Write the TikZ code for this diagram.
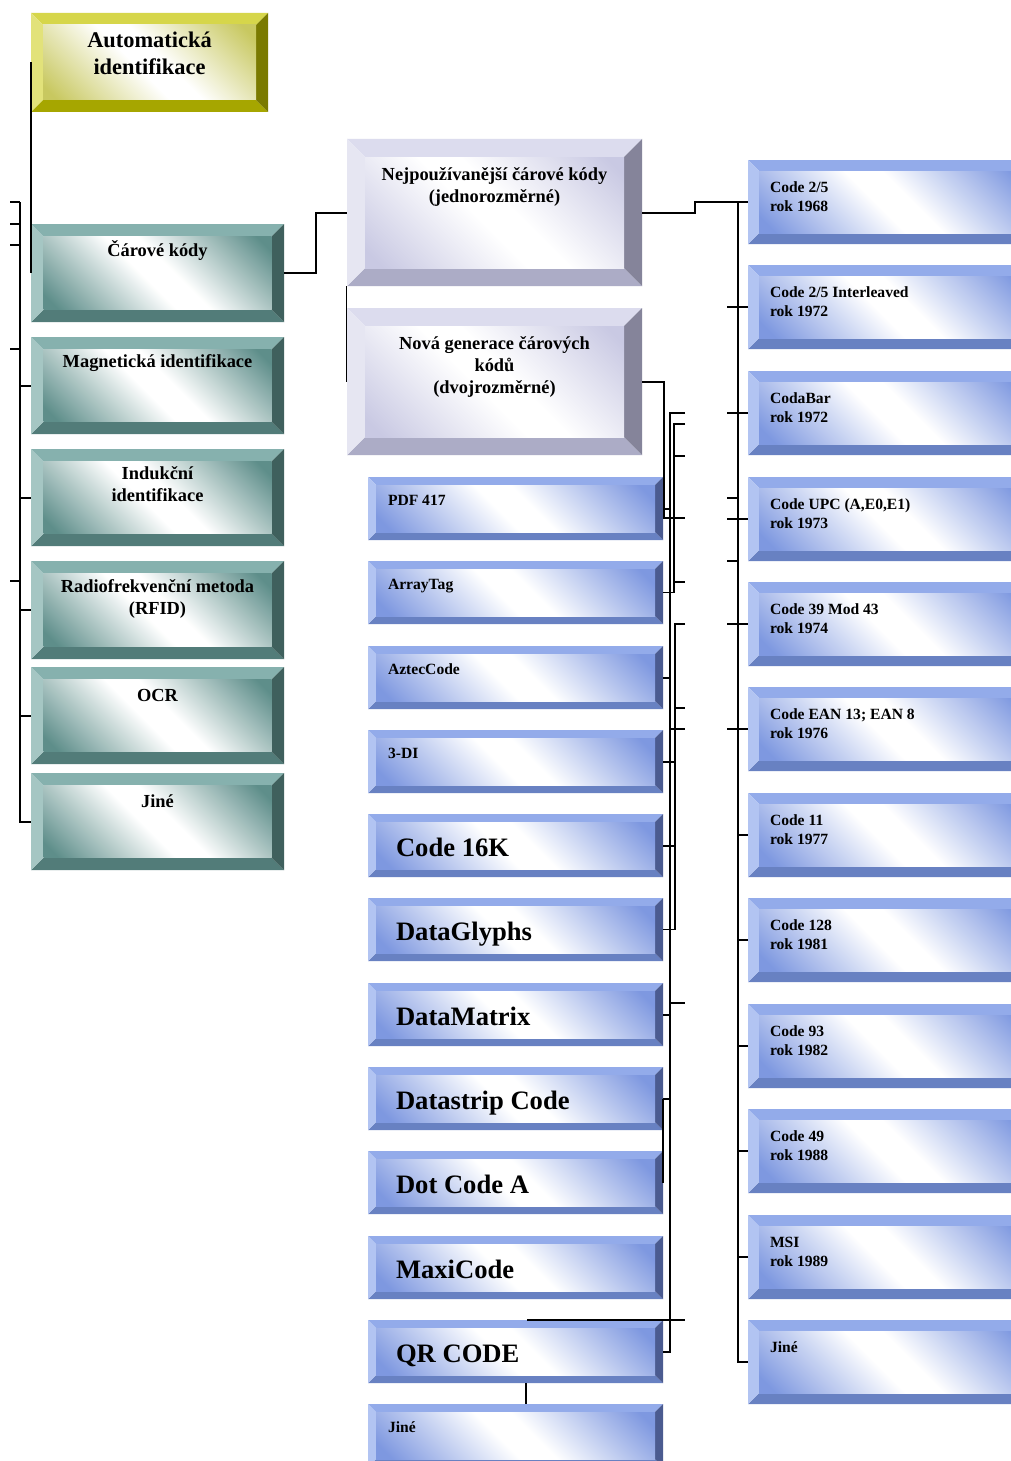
\documentclass[tikz,border=0pt]{standalone}
\usepackage{fontspec}
\setmainfont{Liberation Serif}
\usetikzlibrary{calc,fit}

% bevel palettes: T top, L left, R right, B bottom, C face tint
\definecolor{yeT}{HTML}{D6D64A}
\definecolor{yeL}{HTML}{E2E27A}
\definecolor{yeR}{HTML}{7A7A00}
\definecolor{yeB}{HTML}{A6A600}
\definecolor{yeC}{HTML}{C8C860}
\definecolor{tlT}{HTML}{86B1AE}
\definecolor{tlL}{HTML}{A5C6C3}
\definecolor{tlR}{HTML}{3F605D}
\definecolor{tlB}{HTML}{527C79}
\definecolor{tlC}{HTML}{5E8E8A}
\definecolor{lvT}{HTML}{DCDCEE}
\definecolor{lvL}{HTML}{E6E6F2}
\definecolor{lvR}{HTML}{85849A}
\definecolor{lvB}{HTML}{ACACC6}
\definecolor{lvC}{HTML}{C9C9E3}
\definecolor{blT}{HTML}{93ABEA}
\definecolor{blL}{HTML}{B2C4F2}
\definecolor{blR}{HTML}{4B5B90}
\definecolor{blB}{HTML}{6881C2}
\definecolor{blC}{HTML}{7E98E0}

\pgfdeclareverticalshading{bandye}{100bp}{color(0bp)=(yeC); color(18bp)=(yeC); color(46bp)=(white); color(54bp)=(white); color(82bp)=(yeC); color(100bp)=(yeC)}
\pgfdeclareverticalshading{bandtl}{100bp}{color(0bp)=(tlC); color(18bp)=(tlC); color(46bp)=(white); color(54bp)=(white); color(82bp)=(tlC); color(100bp)=(tlC)}
\pgfdeclareverticalshading{bandlv}{100bp}{color(0bp)=(lvC); color(18bp)=(lvC); color(46bp)=(white); color(54bp)=(white); color(82bp)=(lvC); color(100bp)=(lvC)}
\pgfdeclareverticalshading{bandbl}{100bp}{color(0bp)=(blC); color(18bp)=(blC); color(46bp)=(white); color(54bp)=(white); color(82bp)=(blC); color(100bp)=(blC)}

% #1 name, #2 palette, #3 x1, #4 y1, #5 x2, #6 y2, #7 bevel width
\newcommand\bevelbox[7]{%
  \fill[#2T] (#3,#4) -- (#5,#4) -- ({#5-#7},{#4+#7}) -- ({#3+#7},{#4+#7}) -- cycle;
  \fill[#2B] (#3,#6) -- (#5,#6) -- ({#5-#7},{#6-#7}) -- ({#3+#7},{#6-#7}) -- cycle;
  \fill[#2L] (#3,#4) -- ({#3+#7},{#4+#7}) -- ({#3+#7},{#6-#7}) -- (#3,#6) -- cycle;
  \fill[#2R] (#5,#4) -- ({#5-#7},{#4+#7}) -- ({#5-#7},{#6-#7}) -- (#5,#6) -- cycle;
  \shade[shading=band#2,shading angle=-45] ({#3+#7},{#4+#7}) rectangle ({#5-#7},{#6-#7});
  \node[fit={(#3,#4)(#5,#6)},inner sep=0pt] (#1) {};
}
\newcommand\ccol[1]{\begin{tabular}[t]{@{}c@{}}#1\end{tabular}}
\newcommand\lcol[1]{\begin{tabular}[t]{@{}l@{}}#1\end{tabular}}

\tikzset{
  roottxt/.style={anchor=base,inner sep=0pt,font=\bfseries\fontsize{11.2}{13.5}\selectfont},
  headtxt/.style={anchor=base,inner sep=0pt,font=\bfseries\fontsize{9.2}{11}\selectfont},
  smalltxt/.style={anchor=base west,inner sep=0pt,font=\bfseries\fontsize{7.8}{9.3}\selectfont},
  bigtxt/.style={anchor=base west,inner sep=0pt,font=\bfseries\fontsize{13.3}{16}\selectfont},
  conn/.style={line width=1pt,black},
  thinconn/.style={line width=0.6pt,black},
}

\begin{document}
\begin{tikzpicture}[x=0.5pt,y=-0.5pt]
\useasboundingbox (0,0) rectangle (1011,1461);
\fill[white] (0,0) rectangle (1011,1461);
\clip (0,0) rectangle (1011,1461);

% root
\bevelbox{root}{ye}{31}{13}{268}{112}{12}
\node[roottxt] (troot) at ($(root.north)+(0,35)$) {\ccol{Automatická\\identifikace}};

% identification methods
\bevelbox{bar}{tl}{31}{224}{284}{322}{12.5}
\bevelbox{mag}{tl}{31}{337}{284}{434}{12.5}
\bevelbox{ind}{tl}{31}{449}{284}{546}{12.5}
\bevelbox{rfid}{tl}{31}{561}{284}{659}{12.5}
\bevelbox{ocr}{tl}{31}{667}{284}{764}{12.5}
\bevelbox{oth}{tl}{31}{773}{284}{870}{12.5}
\node[headtxt] (tbar) at ($(bar.north)+(0,33)$) {\ccol{Čárové kódy}};
\node[headtxt] (tmag) at ($(mag.north)+(0,31)$) {\ccol{Magnetická identifikace}};
\node[headtxt] (tind) at ($(ind.north)+(0,31)$) {\ccol{Indukční\\identifikace}};
\node[headtxt] (trfid) at ($(rfid.north)+(0,32)$) {\ccol{Radiofrekvenční metoda\\(RFID)}};
\node[headtxt] (tocr) at ($(ocr.north)+(0,35)$) {\ccol{OCR}};
\node[headtxt] (toth) at ($(oth.north)+(0,35)$) {\ccol{Jiné}};

% barcode families
\bevelbox{nej}{lv}{347}{139}{642}{286}{18}
\bevelbox{nova}{lv}{347}{308}{642}{455}{18}
\node[headtxt] (tnej) at ($(nej.north)+(0,42)$) {\ccol{Nejpoužívanější čárové kódy\\(jednorozměrné)}};
\node[headtxt] (tnova) at ($(nova.north)+(0,42)$) {\ccol{Nová generace čárových\\kódů\\(dvojrozměrné)}};

% two-dimensional codes
\bevelbox{m1}{bl}{368}{477}{663}{540}{8}
\bevelbox{m2}{bl}{368}{561}{663}{624}{8}
\bevelbox{m3}{bl}{368}{646}{663}{709}{8}
\bevelbox{m4}{bl}{368}{730}{663}{793}{8}
\bevelbox{m5}{bl}{368}{814}{663}{877}{8}
\bevelbox{m6}{bl}{368}{898}{663}{961}{8}
\bevelbox{m7}{bl}{368}{983}{663}{1046}{8}
\bevelbox{m8}{bl}{368}{1067}{663}{1130}{8}
\bevelbox{m9}{bl}{368}{1151}{663}{1214}{8}
\bevelbox{m10}{bl}{368}{1236}{663}{1299}{8}
\bevelbox{m11}{bl}{368}{1320}{663}{1383}{8}
\bevelbox{m12}{bl}{368}{1404}{663}{1467}{8}
\node[smalltxt] (tm1) at ($(m1.north west)+(20,29)$) {PDF 417};
\node[smalltxt] (tm2) at ($(m2.north west)+(20,29)$) {ArrayTag};
\node[smalltxt] (tm3) at ($(m3.north west)+(20,29)$) {AztecCode};
\node[smalltxt] (tm4) at ($(m4.north west)+(20,29)$) {3-DI};
\node[bigtxt] (tm5) at ($(m5.north west)+(28,43)$) {Code 16K};
\node[bigtxt] (tm6) at ($(m6.north west)+(28,43)$) {DataGlyphs};
\node[bigtxt] (tm7) at ($(m7.north west)+(28,43)$) {DataMatrix};
\node[bigtxt] (tm8) at ($(m8.north west)+(28,43)$) {Datastrip Code};
\node[bigtxt] (tm9) at ($(m9.north west)+(28,43)$) {Dot Code A};
\node[bigtxt] (tm10) at ($(m10.north west)+(28,43)$) {MaxiCode};
\node[bigtxt] (tm11) at ($(m11.north west)+(28,43)$) {QR CODE};
\node[smalltxt] (tm12) at ($(m12.north west)+(20,29)$) {Jiné};

% one-dimensional codes
\bevelbox{r1}{bl}{748}{160}{1040}{244}{11}
\bevelbox{r2}{bl}{748}{265}{1040}{349}{11}
\bevelbox{r3}{bl}{748}{371}{1040}{455}{11}
\bevelbox{r4}{bl}{748}{477}{1040}{561}{11}
\bevelbox{r5}{bl}{748}{582}{1040}{666}{11}
\bevelbox{r6}{bl}{748}{687}{1040}{771}{11}
\bevelbox{r7}{bl}{748}{793}{1040}{877}{11}
\bevelbox{r8}{bl}{748}{898}{1040}{982}{11}
\bevelbox{r9}{bl}{748}{1004}{1040}{1088}{11}
\bevelbox{r10}{bl}{748}{1109}{1040}{1193}{11}
\bevelbox{r11}{bl}{748}{1215}{1040}{1299}{11}
\bevelbox{r12}{bl}{748}{1320}{1040}{1404}{11}
\node[smalltxt] (tr1) at ($(r1.north west)+(22,33)$) {\lcol{Code 2/5\\rok 1968}};
\node[smalltxt] (tr2) at ($(r2.north west)+(22,33)$) {\lcol{Code 2/5 Interleaved\\rok 1972}};
\node[smalltxt] (tr3) at ($(r3.north west)+(22,33)$) {\lcol{CodaBar\\rok 1972}};
\node[smalltxt] (tr4) at ($(r4.north west)+(22,33)$) {\lcol{Code UPC (A,E0,E1)\\rok 1973}};
\node[smalltxt] (tr5) at ($(r5.north west)+(22,33)$) {\lcol{Code 39 Mod 43\\rok 1974}};
\node[smalltxt] (tr6) at ($(r6.north west)+(22,33)$) {\lcol{Code EAN 13; EAN 8\\rok 1976}};
\node[smalltxt] (tr7) at ($(r7.north west)+(22,33)$) {\lcol{Code 11\\rok 1977}};
\node[smalltxt] (tr8) at ($(r8.north west)+(22,33)$) {\lcol{Code 128\\rok 1981}};
\node[smalltxt] (tr9) at ($(r9.north west)+(22,33)$) {\lcol{Code 93\\rok 1982}};
\node[smalltxt] (tr10) at ($(r10.north west)+(22,33)$) {\lcol{Code 49\\rok 1988}};
\node[smalltxt] (tr11) at ($(r11.north west)+(22,33)$) {\lcol{MSI\\rok 1989}};
\node[smalltxt] (tr12) at ($(r12.north west)+(22,33)$) {\lcol{Jiné}};

% ---- connectors, left tree
\draw[conn] (root.west) -- (bar.west);
\draw[conn] (20,202) |- (oth.west);
\foreach \y in {202,224,245,349,581} \draw[conn] (10,\y) -- (20,\y);
\foreach \b in {mag,ind,rfid,ocr} \draw[conn] (\b.west) -- ++(-11,0);
\draw[conn] (bar.east) -- ++(32,0) |- (nej.west);
\draw[thinconn] (nej.south west) -- (nova.west);

% ---- right tree
\draw[conn] (nej.east) -- ++(53,0) |- (r1.west);
\draw[conn] (738,202) |- (r12.west);
\foreach \b in {r2,r3,r4,r5,r6} \draw[conn] (\b.west) -- ++(-21,0);
\foreach \y in {498,561} \draw[conn] (727,\y) -- (738,\y);
\foreach \b in {r7,r8,r9,r10,r11} \draw[conn] (\b.west) -- ++(-10,0);

% ---- middle tree
\draw[conn] (nova.east) -| (664,518) -- (685,518);
\draw[conn] (685,413) -- (670,413) |- (m11.east);
\draw[thinconn] (685,424) -- (674,424) |- (m2.east);
\draw[thinconn] (685,624) -- (675,624) |- (m6.east);
\foreach \y in {456,582} \draw[conn] (674,\y) -- (685,\y);
\draw[conn] (675,708) -- (685,708);
\foreach \y in {729,1003} \draw[conn] (670,\y) -- (685,\y);
\foreach \b in {m1,m3,m7,m8} \draw[conn] (\b.east) -- ++(7,0);
\foreach \b in {m4,m5} \draw[conn] (\b.east) -- ++(12,0);
\draw[conn] (m8.east) -- (m9.east);
\draw[thinconn] (527,1320) -- (685,1320);
\draw[conn] ([xshift=5pt]m11.south) -- ([xshift=5pt]m12.north);
\end{tikzpicture}
\end{document}
